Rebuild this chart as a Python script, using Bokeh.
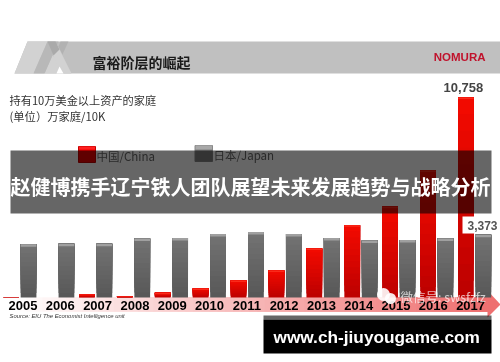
from bokeh.plotting import figure
from bokeh.embed import file_html
from bokeh.resources import INLINE
from bokeh.core.properties import value

years = [2005,2006,2007,2008,2009,2010,2011,2012,2013,2014,2015,2016,2017]
china = [20,0,165,80,250,480,920,1450,2640,3890,4880,6830,10758]
japan = [2870,2890,2890,3180,3200,3410,3520,3410,3200,3070,3090,3170,3373]
title = "富裕阶层的崛起"
sub1 = "持有10万美金以上资产的家庭"
sub2 = "(单位）万家庭/10K"
leg_cn = "中国/China"
leg_jp = "日本/Japan"
banner = "赵健博携手辽宁铁人团队展望未来发展趋势与战略分析"
site = "www.ch-jiuyougame.com"
source = "Source: EIU The Economist Intelligence unit"
CJK = "Noto Sans CJK SC"
W, H = 500, 362
XS, XE = 2004.49, 2004.49 + W/37.9
VPP = 53.8
YS, YE = -(H-297)*VPP, 297*VPP

def X(px): return XS + px/37.9
def Y(py): return (297-py)*VPP

p = figure(width=W, height=H, output_backend="svg", toolbar_location=None,
           x_range=(XS, XE), y_range=(YS, YE), min_border=0, outline_line_color=None)
p.styles = {"position": "fixed", "left": "0px", "top": "0px"}
p.axis.visible = False
p.grid.visible = False
p.background_fill_color = "white"
p.border_fill_color = "white"

def poly(pts, color, alpha=1.0):
    p.patch([X(a) for a, b in pts], [Y(b) for a, b in pts], fill_color=color, fill_alpha=alpha, line_color=None)

def lab(px, py, t, size, color="#222222", font=CJK, style="normal", align="left", alpha=1.0):
    p.text(x=[X(px)], y=[Y(py)], text=[t], text_font=value(font), text_font_size=value(f"{size}px"), text_color=color,
           text_font_style=style, text_align=align, text_baseline="middle", text_alpha=alpha)

def mix(a, b, t):
    return "#%02x%02x%02x" % tuple(round(a[i] + (b[i]-a[i])*t) for i in range(3))

# header
poly([(14,73),(27,41),(500,41),(500,73)], "#c0c0c0")
poly([(14,73),(27,41),(47,41),(33,73)], "#d2d2d2")
poly([(44,73),(52,55),(71,73)], "#d2d2d2")
poly([(47,41),(55,41),(71,73),(60,73)], "#d2d2d2")
poly([(33,73),(47,41),(58,41),(44,73)], "#b8b8b8")
poly([(47,41),(55,41),(59,49),(53,55)], "#aaaaaa")
poly([(60,41),(68,41),(62,54),(58,46)], "#b2b2b2")
poly([(56,73),(59,66),(63,73)], "#ffffff")
lab(92, 61, title, 14, "#1a1a1a", style="bold")
lab(485, 56, "NOMURA", 11.5, "#c0122c", "Liberation Sans", "bold", "right")
lab(9, 99, sub1, 11.2, "#333333")
lab(9, 115, sub2, 11.3, "#333333")

# arrow band under the axis labels
N = 60
for i in range(N):
    t = i/(N-1)
    x0 = 10 + 477*i/N
    p.quad(left=X(x0), right=X(487), top=Y(297), bottom=Y(311), fill_color=mix((255,255,255),(238,112,112),t), line_color=None)
poly([(487,290),(500,304),(487,317)], "#ee7070")

# bars with a vertical shading
BW = 0.415
def bars(xs, vals, top, bot, cap, cap_px):
    for x, v in zip(xs, vals):
        if v <= 0: continue
        n = 12
        for i in range(n):
            p.quad(left=x-BW/2, right=x+BW/2, bottom=v*i/n, top=v,
                   fill_color=mix(bot, top, (i+1)/n), line_color=None)
        h = min(cap_px*VPP, v*0.3)
        p.quad(left=x-BW/2, right=x+BW/2, bottom=v-h, top=v, fill_color=cap, line_color=None)

bars([y-0.23 for y in years], china, (242,10,0), (185,0,0), "#fa2a1a", 1.5)
bars([y+0.23 for y in years], japan, (114,114,114), (86,86,86), "#a0a0a0", 2.5)

# legend swatches
p.quad(left=X(78), right=X(95), top=Y(146), bottom=Y(162), fill_color="#f00000", line_color="#c00000")
p.quad(left=X(78.5), right=X(94.5), top=Y(146), bottom=Y(149), fill_color="#ff2020", line_color=None)
p.quad(left=X(194.5), right=X(212), top=Y(145), bottom=Y(161), fill_color="#808080", line_color="#888888")
p.quad(left=X(195), right=X(211.5), top=Y(145), bottom=Y(149), fill_color="#a8a8a8", line_color=None)

# value labels
p.quad(left=X(462), right=X(500), top=Y(216), bottom=Y(233), fill_color="white", line_color=None)
lab(443, 87, f"{china[-1]:,}", 13, "#444444", "Liberation Sans", "bold", "left")
lab(467, 225, f"{japan[-1]:,}", 12, "#555555", "Liberation Sans", "bold", "left")

# year labels
for i, y in enumerate(years):
    lab(22.5 + 37.3*i, 304.5, str(y), 13, "#000000", "Liberation Sans", "bold", "center")
lab(9, 315, source, 5.9, "#333333", "Liberation Sans", "italic")

# translucent banner
p.quad(left=X(10), right=X(491), top=Y(150), bottom=Y(213), fill_color="#000000", fill_alpha=0.6, line_color=None)
lab(96, 155, leg_cn, 11.5, "#2a2a2a")
lab(213, 154, leg_jp, 11.5, "#2a2a2a")
lab(10, 186, banner, 20, "#ffffff", style="bold")

# watermark
p.circle(x=[X(383)], y=[Y(294)], radius=6.5/37.9, fill_color="white", fill_alpha=.9, line_color=None)
p.circle(x=[X(390)], y=[Y(298)], radius=5.5/37.9, fill_color="white", fill_alpha=.9, line_color=None)
lab(400, 296, "微信号: swsfzfz", 12.5, "#ffffff", alpha=.7)

# site box
p.quad(left=X(263), right=X(491), top=Y(315), bottom=Y(319), fill_color="#000000", fill_alpha=.6, line_color=None)
p.quad(left=X(263), right=X(491), top=Y(319), bottom=Y(353), fill_color="#000000", line_color=None)
lab(273, 336, site, 17.25, "#ffffff", "Liberation Sans", "bold")

open("out.html", "w").write(file_html(p, INLINE))
